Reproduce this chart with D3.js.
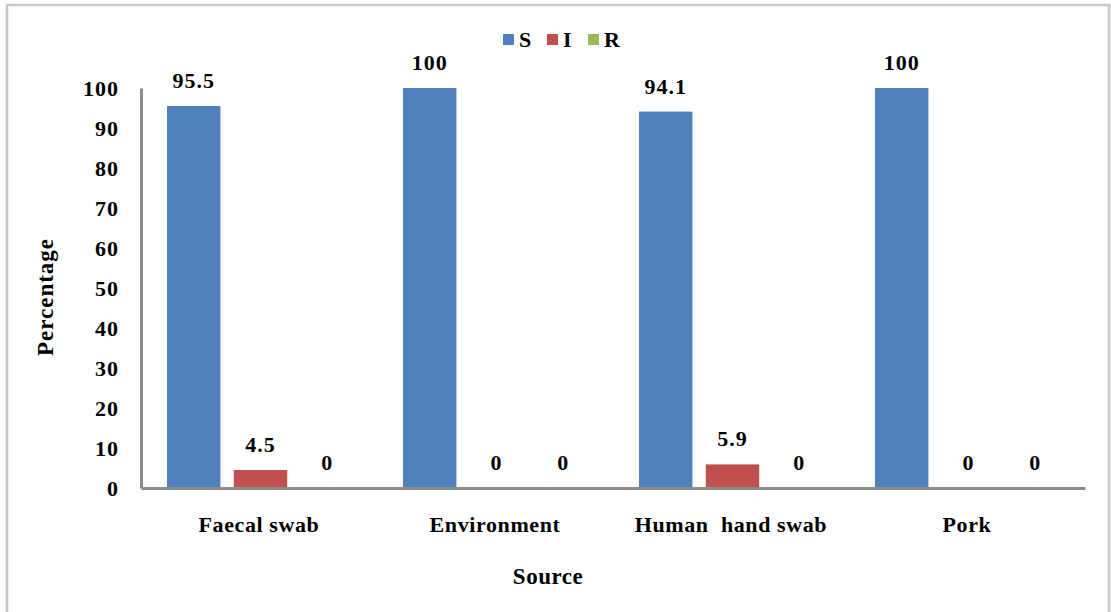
<!DOCTYPE html>
<html><head><meta charset="utf-8">
<script src="https://cdn.jsdelivr.net/npm/d3@7"></script>
<style>body{margin:0;background:#fff;} text{font-family:"Liberation Serif","Times New Roman",serif;font-weight:bold;fill:#000;}</style>
</head><body>
<svg id="c" width="1111" height="612"></svg>
<script>
const categories = ["Faecal swab", "Environment", "Human  hand swab", "Pork"];
const seriesNames = ["S", "I", "R"];
const S = [95.5, 100, 94.1, 100];
const I = [4.5, 0, 5.9, 0];
const R = [0, 0, 0, 0];
const yTicks = [0,10,20,30,40,50,60,70,80,90,100];
const colors = ["#4f81bd", "#c0504d", "#9bbb59"];

(function(){
const values = [S, I, R];
const svg = d3.select("#c");
svg.append("rect").attr("x",7).attr("y",5).attr("width",1102).attr("height",620)
  .attr("fill","none").attr("stroke","#c8c8c8").attr("stroke-width",2.5);

const pLeft = 141, pRight = 1085, pTop = 88, pBottom = 488;
const x = d3.scaleBand().domain(categories).range([pLeft, pRight]).paddingInner(0).paddingOuter(0);
const xs = d3.scaleBand().domain(seriesNames).range([26, 26+187]).paddingInner(0.2).paddingOuter(0);
const y = d3.scaleLinear().domain([0,100]).range([pBottom, pTop]);

// bars
seriesNames.forEach((s, si) => {
  const g = svg.append("g");
  g.selectAll("rect").data(categories).join("rect")
    .attr("x", (c) => x(c) + xs(s))
    .attr("width", xs.bandwidth())
    .attr("y", (c,i) => y(values[si][i]))
    .attr("height", (c,i) => y(0) - y(values[si][i]))
    .attr("fill", colors[si]);
  g.selectAll("text").data(categories).join("text")
    .attr("x", (c) => x(c) + xs(s) + xs.bandwidth()/2)
    .attr("y", (c,i) => y(values[si][i]) - 18)
    .attr("text-anchor","middle").attr("font-size", 22).attr("letter-spacing","1px")
    .text((c,i) => values[si][i]);
});

// y axis
const yAxis = d3.axisLeft(y).tickValues(yTicks).tickSize(0).tickPadding(22);
const ya = svg.append("g").attr("transform",`translate(${pLeft},0)`).call(yAxis);
ya.select(".domain").attr("stroke","#8c8c8c").attr("stroke-width",3);
ya.selectAll("text").attr("font-size",22).attr("font-family","Liberation Serif").attr("font-weight","bold").attr("fill","#000").attr("letter-spacing","1px");

// x axis
const xAxis = d3.axisBottom(x).tickSize(0).tickPadding(28);
const xa = svg.append("g").attr("transform",`translate(0,${pBottom})`).call(xAxis);
xa.select(".domain").attr("stroke","#8c8c8c").attr("stroke-width",3);
xa.selectAll("text").attr("font-size",22).attr("font-family","Liberation Serif").attr("font-weight","bold").attr("fill","#000")
  .attr("letter-spacing","0.6px").style("white-space","pre");

// axis titles
svg.append("text").attr("transform","translate(53,297) rotate(-90)").attr("text-anchor","middle").attr("font-size",23).attr("letter-spacing","1px").text("Percentage");
svg.append("text").attr("x",548).attr("y",584).attr("text-anchor","middle").attr("font-size",23).attr("letter-spacing","0.5px").text("Source");

// legend
const lx = [503, 547, 588];
seriesNames.forEach((s, i) => {
  svg.append("rect").attr("x", lx[i]).attr("y", 34).attr("width", 11).attr("height", 11).attr("fill", colors[i]);
  svg.append("text").attr("x", lx[i] + 16).attr("y", 47).attr("font-size", 22).text(s);
});
})();
</script>
</body></html>
